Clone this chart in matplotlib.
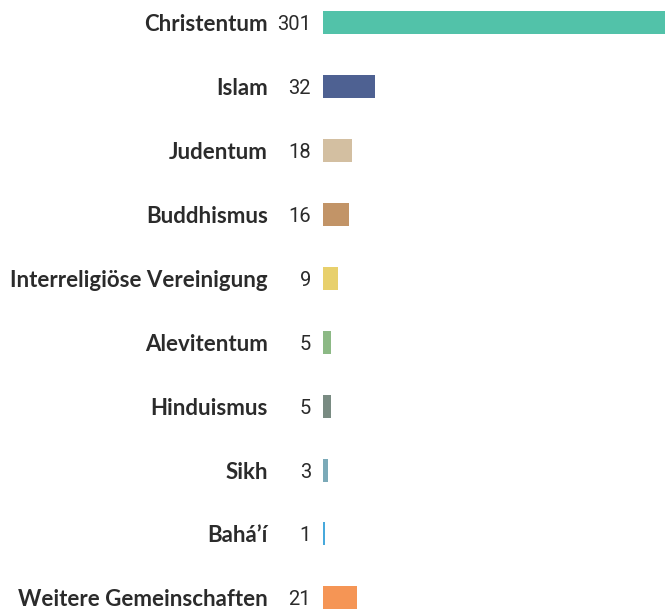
import matplotlib
matplotlib.use("Agg")
import matplotlib.pyplot as plt

# Religious communities and counts
categories = ["Christentum", "Islam", "Judentum", "Buddhismus",
              "Interreligiöse Vereinigung", "Alevitentum", "Hinduismus",
              "Sikh", "Bahá’í", "Weitere Gemeinschaften"]
values = [301, 32, 18, 16, 9, 5, 5, 3, 1, 21]
colors = ["#52C2A9", "#4E6192", "#D3BFA1", "#C29467", "#E8D06C",
          "#8CB985", "#798B82", "#7BAAB8", "#47A9DC", "#F59555"]

fig = plt.figure(figsize=(6.65, 6.1), dpi=100)
ax = fig.add_axes([323 / 665, 0, 1 - 323 / 665, 1])

pos = list(range(len(categories)))
ax.barh(pos, values, height=0.36, color=colors, linewidth=0)
ax.set_xlim(0, 210)
ax.set_ylim(len(categories) - 1 + 0.19, -0.36)
ax.axis("off")

for i, (name, val) in enumerate(zip(categories, values)):
    ax.annotate(name, xy=(0, i), xycoords=("axes fraction", "data"),
                xytext=(-55, -2), textcoords="offset pixels",
                ha="right", va="center", fontsize=16, fontweight="bold",
                family="Lato", color="#2b2b2b")
    ax.annotate(str(val), xy=(0, i), xycoords=("axes fraction", "data"),
                xytext=(-12, -2), textcoords="offset pixels",
                ha="right", va="center", fontsize=14.5,
                family="Roboto", color="#2b2b2b")

fig.savefig("out.png", dpi=100)
